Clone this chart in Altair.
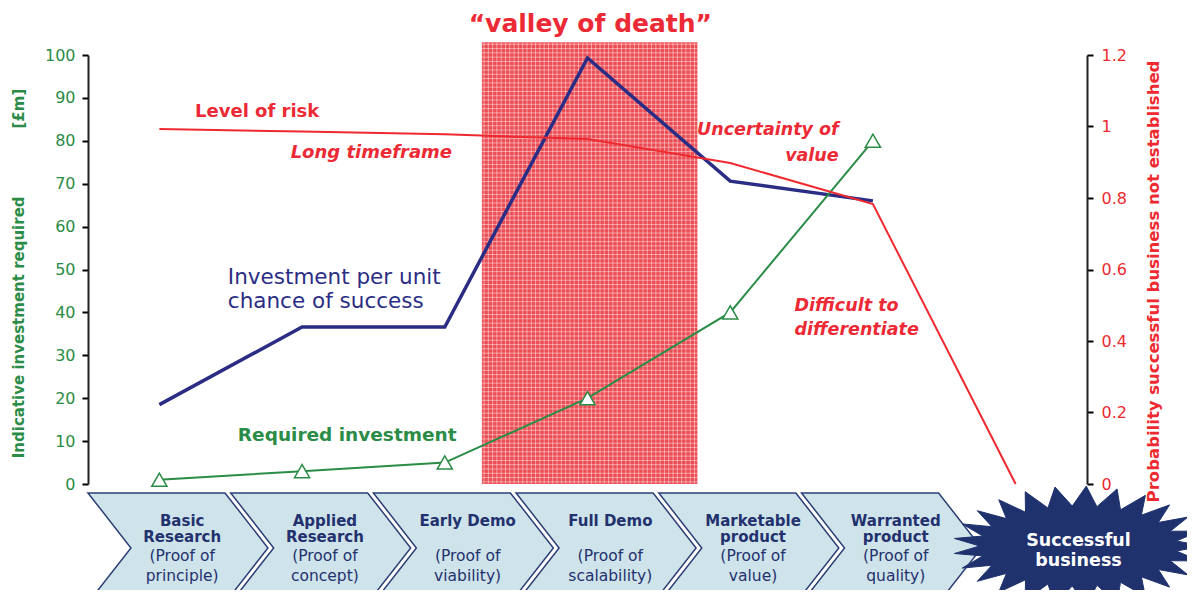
import math
import altair as alt
import pandas as pd

# ---------------- data ----------------
stages = [0, 1, 2, 3, 4, 5, 6]
required_investment = [1, 3, 5, 20, 40, 80]
per_unit_chance = [18.5, 36.6, 36.6, 99.3, 70.6, 66.0]
level_of_risk = [0.993, 0.986, 0.978, 0.965, 0.898, 0.783, 0.0]
left_ticks = [0, 10, 20, 30, 40, 50, 60, 70, 80, 90, 100]
right_ticks = [0, 0.2, 0.4, 0.6, 0.8, 1.0, 1.2]
x_ticks = [0, 1, 2, 3, 4, 5, 6, 7]
stage_names = ["Basic\nResearch", "Applied\nResearch", "Early Demo", "Full Demo",
               "Marketable\nproduct", "Warranted\nproduct"]
stage_proofs = ["(Proof of\nprinciple)", "(Proof of\nconcept)", "(Proof of\nviability)",
                "(Proof of\nscalability)", "(Proof of\nvalue)", "(Proof of\nquality)"]
valley_span = [2.76, 4.27]
valley_top = 103
valley_title = "\u201cvalley of death\u201d"
star_label = "Successful\nbusiness"
left_title = "Indicative investment required" + "\u00a0" * 13 + "[\u00a3m]"
right_title = "Probability successful business not established"

GREEN = "#2a8c46"
NAVY = "#2b2d84"
RED = "#ee2a30"
RED_TXT = "#ec2a35"
CHEV_FILL = "#cfe4ea"
CHEV_STROKE = "#2c3e75"
STAR = "#1f326e"
FONT = "DejaVu Sans"

xs = alt.Scale(domain=[0, 7], nice=False, zero=False)
ys = alt.Scale(domain=[0, 100], nice=False, zero=False)
ys_r = alt.Scale(domain=[0, 1.2], nice=False, zero=False)


def X(field="x"):
    return alt.X(f"{field}:Q", scale=xs, axis=None)


def Y(field="y"):
    return alt.Y(f"{field}:Q", scale=ys, axis=None)


# ---------------- valley of death rect + grid ----------------
valley_df = pd.DataFrame({"x": [valley_span[0]], "x2": [valley_span[1]], "y": [0], "y2": [valley_top]})
valley = alt.Chart(valley_df).mark_rect(color="#ec4d54").encode(
    x=X(), x2="x2:Q", y=Y(), y2="y2:Q")

vgrid = alt.Chart(alt.sequence(valley_span[0] + 0.015, valley_span[1], 0.0301, as_="gx")).mark_rule(
    color="white", strokeWidth=1, opacity=0.45
).transform_calculate(y0="0", y1=str(valley_top)).encode(x=X("gx"), y=Y("y0"), y2="y1:Q")

hgrid = alt.Chart(alt.sequence(0.5, valley_top, 1, as_="gy")).mark_rule(
    color="white", strokeWidth=1, opacity=0.45
).transform_calculate(x0=str(valley_span[0]), x1=str(valley_span[1])).encode(y=Y("gy"), x=X("x0"), x2="x1:Q")

# ---------------- axes (carried by an invisible layer) ----------------
axis_df = pd.DataFrame({"x": [0, 7], "y": [0, 100]})
left_axes = alt.Chart(axis_df).mark_point(opacity=0, size=1).encode(
    x=alt.X("x:Q", scale=xs, axis=alt.Axis(values=x_ticks, labels=False, tickSize=6, tickWidth=1.5,
                                          tickColor="black", domainColor="#222", domainWidth=2,
                                          grid=False, title=None)),
    y=alt.Y("y:Q", scale=ys, axis=alt.Axis(values=left_ticks, orient="left", labelColor=GREEN,
                                          labelFont=FONT, labelFontSize=16, labelPadding=7,
                                          tickColor="black", tickSize=6, tickWidth=2,
                                          domainColor="#222", domainWidth=2, grid=False,
                                          title=left_title,
                                          titleColor=GREEN, titleFont=FONT, titleFontSize=15,
                                          titleFontWeight="bold", titleAngle=270, titleX=-70, titleY=218,
                                          titleAlign="center", titleBaseline="middle")),
)

# ---------------- series ----------------
inv_df = pd.DataFrame({"x": [s + 0.5 for s in stages[:6]], "req": required_investment, "per": per_unit_chance})

blue_line = alt.Chart(inv_df).mark_line(color=NAVY, strokeWidth=3.5).encode(x=X(), y=Y("per"))
green_line = alt.Chart(inv_df).mark_line(color=GREEN, strokeWidth=2).encode(x=X(), y=Y("req"))
green_pts = alt.Chart(inv_df).mark_point(shape="triangle-up", filled=True, fill="white", stroke=GREEN,
                                         strokeWidth=1.5, size=230, opacity=1).encode(x=X(), y=Y("req"))

risk_df = pd.DataFrame({"x": [s + 0.5 for s in stages], "risk": level_of_risk})
red_line = alt.Chart(risk_df).mark_line(color=RED, strokeWidth=2).encode(
    x=X(),
    y=alt.Y("risk:Q", scale=ys_r, axis=alt.Axis(values=right_ticks, orient="right", labelColor=RED,
                                               format="~g",
                                               labelFont=FONT, labelFontSize=16, labelPadding=8,
                                               tickColor="black", tickSize=6, tickWidth=2,
                                               domainColor="#222", domainWidth=2, grid=False,
                                               title=right_title,
                                               titleColor=RED, titleFont=FONT, titleFontSize=16.5,
                                               titleFontWeight="bold", titleAngle=270, titleX=66, titleY=226,
                                               titleAlign="center", titleBaseline="middle")),
)


# ---------------- annotations ----------------
def label(text, x, y, color, size, weight="normal", style="normal",
          align="left", baseline="middle", lh=None):
    df = pd.DataFrame({"x": [x], "y": [y], "t": [text]})
    return alt.Chart(df).mark_text(color=color, fontSize=size, font=FONT, fontWeight=weight,
                                   fontStyle=style, align=align, baseline=baseline,
                                   lineBreak="\n", lineHeight=lh or size * 1.35).encode(
        x=X(), y=Y(), text="t:N")


annotations = [
    label(valley_title, 3.52, 107.2, RED_TXT, 25, weight="bold", align="center"),
    label("Level of risk", 0.75, 86.7, RED_TXT, 18, weight="bold"),
    label("Long timeframe", 1.42, 77.2, RED_TXT, 18, weight="bold", style="italic"),
    label("Uncertainty of\nvalue", 5.26, 84.6, RED_TXT, 17.5, weight="bold", style="italic",
          align="right", baseline="top", lh=26),
    label("Difficult to\ndifferentiate", 4.95, 43.5, RED_TXT, 17.5, weight="bold", style="italic",
          baseline="top", lh=24),
    label("Investment per unit\nchance of success", 0.98, 50.6, NAVY, 21.5, baseline="top", lh=24),
    label("Required investment", 1.05, 11.4, GREEN, 18.5, weight="bold"),
]

# ---------------- stage chevrons ----------------
r_ch = 71.5
pts = [(-71.4, -55), (65.6, -55), (108.6, 0), (65.6, 55), (-71.4, 55), (-28.4, 0)]
chev_path = "M" + " L".join(f"{px / r_ch:.4f},{py / r_ch:.4f}" for px, py in pts) + " Z"

chev_df = pd.DataFrame({"x": [s + 0.5 for s in stages[:6]], "y": [-14.9] * 6,
                        "tx": [s + 0.66 for s in stages[:6]],
                        "yb": [-6.9] * 6, "yp": [-15.1] * 6,
                        "name": stage_names, "proof": stage_proofs})
chevrons = alt.Chart(chev_df).mark_point(shape=chev_path, filled=True, fill=CHEV_FILL, stroke=CHEV_STROKE,
                                         strokeWidth=1.5, size=(2 * r_ch) ** 2, opacity=1).encode(
    x=X(), y=Y())
chev_names = alt.Chart(chev_df).mark_text(color="#23316e", font=FONT, fontWeight="bold",
                                          fontSize=15, align="center", baseline="top", lineBreak="\n",
                                          lineHeight=16).encode(x=X("tx"), y=Y("yb"), text="name:N")
chev_proofs = alt.Chart(chev_df).mark_text(color="#23316e", font=FONT, fontSize=15.5,
                                           align="center", baseline="top", lineBreak="\n",
                                           lineHeight=20).encode(x=X("tx"), y=Y("yp"), text="proof:N")

# ---------------- star burst ----------------
r_star = 125
n_sp = 25
star_pts = []
for k in range(2 * n_sp):
    a = math.pi * k / n_sp
    rx, ry = (1.0, 0.48) if k % 2 == 0 else (0.79, 0.32)
    star_pts.append((rx * math.cos(a), ry * math.sin(a)))
star_path = "M" + " L".join(f"{px:.4f},{py:.4f}" for px, py in star_pts) + " Z"
star_df = pd.DataFrame({"x": [6.94], "y": [-14.45], "t": [star_label], "ty": [-13.4]})
star = alt.Chart(star_df).mark_point(shape=star_path, filled=True, fill=STAR, stroke=STAR, strokeWidth=1,
                                     size=(2 * r_star) ** 2, opacity=1).encode(x=X(), y=Y())
star_text = alt.Chart(star_df).mark_text(color="white", font=FONT, fontWeight="bold", fontSize=17.5,
                                         align="center", baseline="middle", lineBreak="\n",
                                         lineHeight=20).encode(x=X(), y=Y("ty"), text="t:N")

chart = alt.layer(left_axes, valley, vgrid, hgrid, blue_line, green_line, green_pts, *annotations,
                  chevrons, chev_names, chev_proofs, red_line, star, star_text
                  ).resolve_scale(y="independent").properties(
    width=999, height=429,
    autosize=alt.AutoSizeParams(type="none"),
    padding={"left": 80, "top": 47, "right": 100, "bottom": 106},
).configure_view(stroke=None)

chart.save("out.html", embed_options={"renderer": "svg", "actions": False})
